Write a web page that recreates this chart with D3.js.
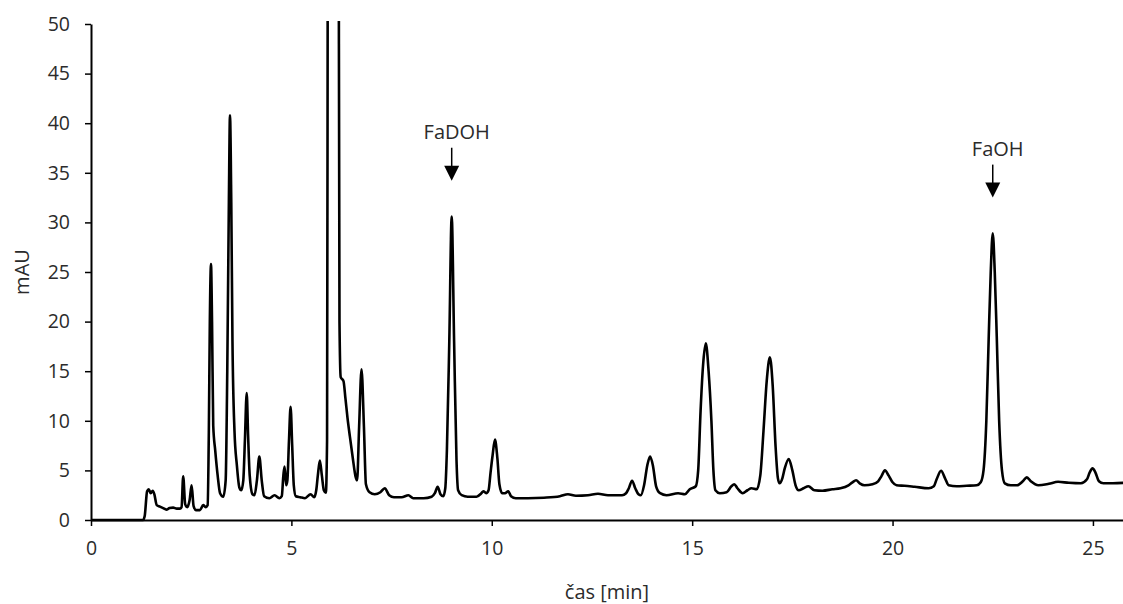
<!DOCTYPE html>
<html><head><meta charset="utf-8">
<script src="https://cdn.jsdelivr.net/npm/d3@7"></script>
<style>
body{margin:0;background:#fff}
svg{display:block}
text{font-family:"Open Sans",sans-serif;fill:#2b2b2b}
</style>
</head><body>
<svg id="c" width="1123" height="604"></svg>
<script>
// retention time [min]
const times = [0,1.3,1.34,1.40,1.44,1.49,1.54,1.58,1.64,1.72,1.80,1.88,1.96,2.05,2.14,2.22,2.26,2.30,2.35,2.40,2.46,2.51,2.56,2.62,2.72,2.80,2.86,2.91,2.94,2.965,2.994,3.02,3.05,3.10,3.16,3.22,3.30,3.36,3.40,3.44,3.468,3.50,3.53,3.58,3.64,3.70,3.75,3.80,3.84,3.885,3.92,3.96,4.03,4.08,4.14,4.20,4.26,4.32,4.45,4.58,4.70,4.76,4.80,4.83,4.87,4.90,4.94,4.98,5.02,5.06,5.11,5.22,5.34,5.48,5.57,5.62,5.66,5.71,5.76,5.81,5.86,5.89,5.905,5.93,6.04,6.16,6.185,6.20,6.23,6.30,6.35,6.40,6.46,6.54,6.60,6.64,6.69,6.75,6.81,6.86,6.95,7.08,7.22,7.33,7.44,7.56,7.75,7.92,8.04,8.30,8.50,8.58,8.65,8.72,8.79,8.84,8.88,8.94,9.00,9.06,9.12,9.16,9.25,9.40,9.62,9.74,9.79,9.86,9.92,9.97,10.02,10.08,10.14,10.19,10.26,10.33,10.41,10.48,10.6,10.9,11.3,11.7,11.9,12.1,12.4,12.65,12.9,13.25,13.35,13.42,13.50,13.58,13.66,13.72,13.80,13.88,13.95,14.02,14.10,14.20,14.36,14.65,14.82,14.94,15.09,15.15,15.21,15.27,15.34,15.41,15.48,15.53,15.58,15.69,15.86,15.98,16.05,16.13,16.26,16.38,16.48,16.61,16.70,16.78,16.86,16.94,17.01,17.08,17.14,17.18,17.25,17.31,17.41,17.50,17.58,17.66,17.78,17.90,18.05,18.25,18.5,18.7,18.9,19.00,19.09,19.18,19.30,19.50,19.64,19.72,19.81,19.90,20.00,20.10,20.30,20.55,20.90,21.03,21.10,21.21,21.31,21.40,21.60,21.85,22.10,22.20,22.27,22.34,22.40,22.45,22.50,22.55,22.60,22.66,22.73,22.80,22.95,23.11,23.25,23.35,23.45,23.64,23.9,24.13,24.4,24.7,24.85,24.92,24.99,25.06,25.15,25.26,25.5,25.8];
// detector signal [mAU]
const mAU = [0,0,0.4,2.9,3.1,2.7,2.95,2.6,1.5,1.35,1.2,1.05,1.2,1.25,1.15,1.15,1.3,4.4,1.6,1.3,2.0,3.5,1.4,1.0,1.0,1.5,1.3,1.5,8.8,20,25.8,20,9.5,7.0,4.5,2.7,2.35,4.0,15,32,40.8,32,18,9.0,5.5,3.3,3.0,4.0,8.0,12.8,8.5,4.5,2.6,2.5,4.0,6.4,4.0,2.4,2.2,2.5,2.2,2.4,4.5,5.4,3.5,4.0,8.0,11.4,7.5,3.5,2.4,2.3,2.2,2.6,2.3,3.0,4.5,6.0,4.5,3.0,2.75,8,50,150,250,150,50,20,14.4,14.0,12.2,10.3,8.4,6.0,4.4,4.0,9.4,15.2,9.4,3.6,2.8,2.6,2.8,3.2,2.5,2.3,2.3,2.5,2.2,2.2,2.35,2.7,3.35,2.6,2.4,3.2,7.0,18,30.6,18,6.0,3.0,2.5,2.35,2.35,2.7,2.9,2.7,3.0,4.8,6.5,8.1,6.2,3.6,2.7,2.7,2.9,2.4,2.2,2.2,2.25,2.4,2.6,2.45,2.5,2.65,2.5,2.5,2.7,3.2,3.96,3.2,2.6,2.5,3.5,5.5,6.4,5.5,3.4,2.7,2.5,2.7,2.6,3.1,3.4,5.0,11.0,15.5,17.8,15.0,10.0,5.0,3.0,2.7,2.8,3.4,3.6,3.2,2.7,3.0,3.2,3.1,4.5,9.0,14.0,16.4,13.5,7.5,4.2,3.7,4.2,5.2,6.15,5.0,3.5,3.0,3.2,3.4,3.0,2.95,3.1,3.2,3.5,3.8,4.0,3.7,3.5,3.6,3.9,4.4,5.0,4.5,3.8,3.5,3.45,3.35,3.2,3.4,4.1,4.97,4.2,3.5,3.4,3.45,3.5,3.8,5.0,10.0,18.5,25.0,28.9,25.0,18.5,10.0,5.0,3.7,3.5,3.5,3.9,4.3,3.9,3.5,3.65,3.85,3.75,3.7,4.1,4.8,5.2,4.8,3.9,3.7,3.7,3.75];

const xTicks = [0,5,10,15,20,25];
const yTicks = [0,5,10,15,20,25,30,35,40,45,50];
const annLabels = ["FaDOH","FaOH"];
const annTimes = [9.0,22.5];
const annTip = [34.2,32.5];

const svg = d3.select("#c");
const x = d3.scaleLinear().domain([0,25.75]).range([91,1123]);
const y = d3.scaleLinear().domain([0,50]).range([520,24]);

svg.append("defs").append("clipPath").attr("id","clip")
  .append("rect").attr("x",91).attr("y",21).attr("width",1032).attr("height",510);

const data = times.map((t,i)=>[t,mAU[i]]);
svg.append("path").datum(data)
  .attr("clip-path","url(#clip)")
  .attr("fill","none").attr("stroke","#000").attr("stroke-width",2.6)
  .attr("stroke-linejoin","round")
  .attr("d", d3.line().x(d=>x(d[0])).y(d=>y(d[1])).curve(d3.curveMonotoneX));

// axes
const xa = svg.append("g").attr("transform","translate(0,520)")
  .call(d3.axisBottom(x).tickValues(xTicks).tickFormat(d3.format("d")).tickSize(6).tickSizeOuter(0).tickPadding(15));
const ya = svg.append("g").attr("transform","translate(91,0)")
  .call(d3.axisLeft(y).tickValues(yTicks).tickFormat(d3.format("d")).tickSize(6).tickSizeOuter(0).tickPadding(15));
[xa,ya].forEach(g=>{
  g.select(".domain").attr("stroke","#000").attr("stroke-width",2);
  g.selectAll(".tick line").attr("stroke","#000").attr("stroke-width",1.5);
  g.selectAll(".tick text").style("font-size","19.5px").attr("fill","#2b2b2b");
});

svg.append("text").attr("x",607).attr("y",599).attr("text-anchor","middle")
  .style("font-size","20px").text("čas [min]");
svg.append("text").attr("transform","translate(29,272) rotate(-90)").attr("text-anchor","middle")
  .style("font-size","20px").text("mAU");

// annotations
annLabels.forEach((lab,i)=>{
  const ax = x(annTimes[i]), ty = y(annTip[i]);
  svg.append("text").attr("x",ax+5).attr("y",ty-42).attr("text-anchor","middle")
    .style("font-size","20px").text(lab);
  svg.append("line").attr("x1",ax).attr("x2",ax).attr("y1",ty-33).attr("y2",ty-12)
    .attr("stroke","#000").attr("stroke-width",1.5);
  svg.append("path").attr("d",`M${ax-7.5},${ty-15}L${ax+7.5},${ty-15}L${ax},${ty}Z`).attr("fill","#000");
});
</script>
</body></html>
